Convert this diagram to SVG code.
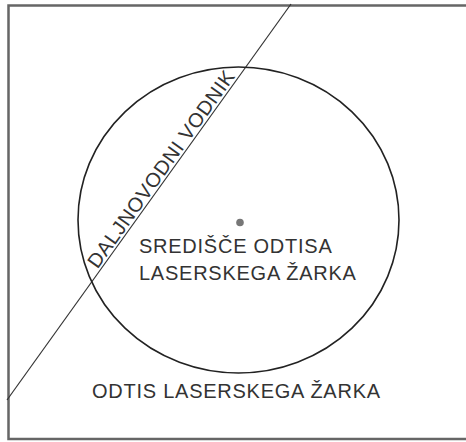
<svg xmlns="http://www.w3.org/2000/svg" width="466" height="442" viewBox="0 0 466 442">
<style>
.lbl{font-family:"Liberation Sans",Arial,sans-serif;font-size:20px;fill:#333;letter-spacing:0.75px}
</style>
<rect width="466" height="442" fill="#fff"/>
<rect x="8.5" y="5.5" width="470" height="433.5" fill="none" stroke="#666" stroke-width="2.5"/>
<g id="connectors">
<line x1="291" y1="4" x2="7" y2="400" stroke="#333" stroke-width="1.2"/>
</g>
<g id="spot">
<ellipse cx="238.5" cy="220" rx="160.5" ry="153" fill="none" stroke="#222" stroke-width="1.6"/>
<text class="lbl" x="92" y="397.5">ODTIS LASERSKEGA ŽARKA</text>
</g>
<g id="center">
<circle cx="240" cy="222.5" r="3.8" fill="#777"/>
<text class="lbl" x="139" y="252.5">SREDIŠČE ODTISA</text>
<text class="lbl" x="139" y="279.5">LASERSKEGA ŽARKA</text>
</g>
<g id="conductor">
<text class="lbl" transform="translate(97.5,269.5) rotate(-54.4)">DALJNOVODNI VODNIK</text>
</g>
</svg>
